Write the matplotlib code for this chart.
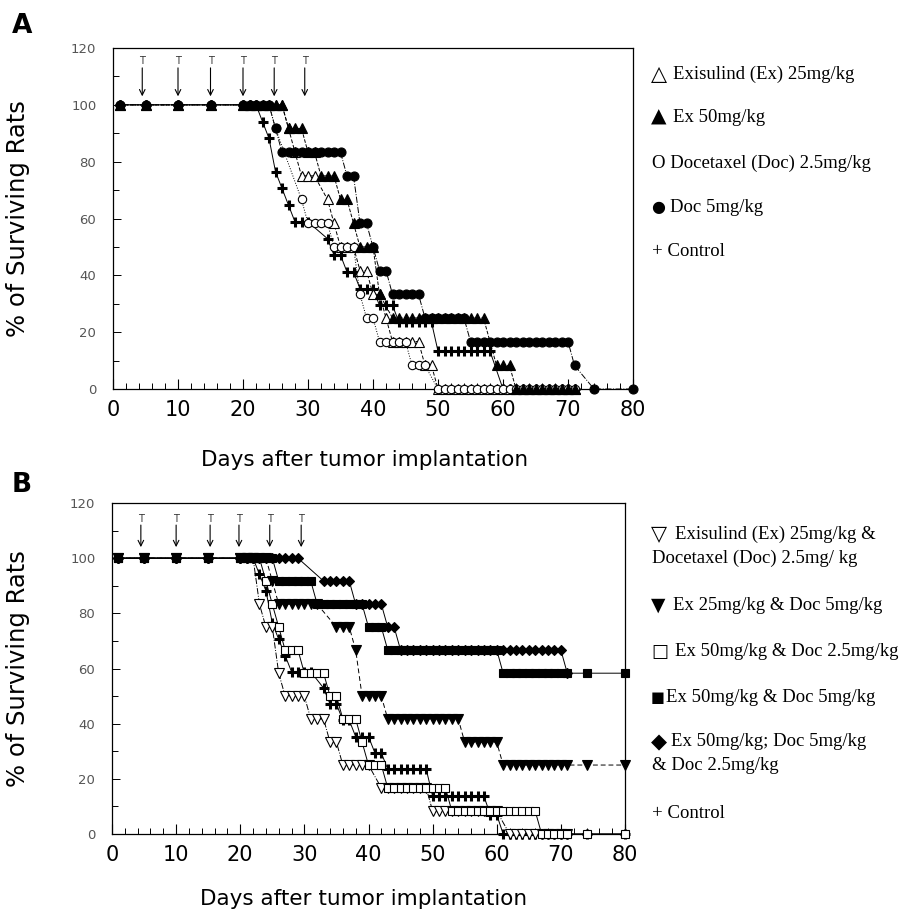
import matplotlib
matplotlib.use("Agg")
import matplotlib.pyplot as plt
from matplotlib.ticker import MultipleLocator

# days on which every group was still at 100 %
early_days = [1, 5, 10, 15]

# runs of daily observations: (first day, last day, % of surviving rats)
# --- panel A ---
a_control = [(20, 22, 100), (23, 23, 94.1), (24, 24, 88.2), (25, 25, 76.5), (26, 26, 70.6),
             (27, 27, 64.7), (28, 30, 58.8), (33, 33, 52.9), (34, 35, 47.1), (36, 37, 41.2),
             (38, 40, 35.3), (41, 43, 29.4), (44, 49, 23.5), (50, 58, 13.3), (60, 71, 0)]
a_ex25 = [(20, 26, 100), (27, 27, 91.7), (28, 28, 83.3), (29, 31, 75), (33, 33, 66.7),
          (34, 34, 58.3), (35, 37, 50), (38, 39, 41.7), (40, 41, 33.3), (42, 42, 25),
          (43, 47, 16.7), (48, 49, 8.3), (50, 71, 0)]
a_doc25 = [(20, 24, 100), (25, 25, 91.7), (29, 29, 66.7), (30, 33, 58.3), (34, 37, 50),
           (38, 38, 33.3), (39, 40, 25), (41, 45, 16.7), (46, 48, 8.3), (50, 71, 0)]
a_ex50 = [(20, 26, 100), (27, 29, 91.7), (30, 31, 83.3), (32, 34, 75), (35, 36, 66.7),
          (37, 37, 58.3), (38, 40, 50), (41, 41, 33.3), (43, 57, 25), (59, 61, 8.3),
          (62, 71, 0)]
a_doc5 = [(20, 24, 100), (25, 25, 91.7), (26, 35, 83.3), (36, 37, 75), (38, 39, 58.3),
          (40, 40, 50), (41, 42, 41.7), (43, 47, 33.3), (48, 54, 25), (55, 70, 16.7),
          (71, 71, 8.3), (74, 74, 0), (80, 80, 0)]

# --- panel B ---
b_control = [(20, 22, 100), (23, 23, 94.1), (24, 24, 88.2), (25, 25, 76.5), (26, 26, 70.6),
             (27, 27, 64.7), (28, 31, 58.8), (33, 33, 52.9), (34, 35, 47.1), (36, 37, 41.2),
             (38, 40, 35.3), (41, 42, 29.4), (43, 49, 23.5), (50, 58, 13.7), (59, 60, 7),
             (61, 71, 0), (74, 74, 0), (80, 80, 0)]
b_ex25_doc25 = [(20, 22, 100), (23, 23, 83.3), (24, 25, 75), (26, 26, 58.3), (27, 30, 50),
                (31, 33, 41.7), (34, 35, 33.3), (36, 40, 25), (42, 49, 16.7), (50, 60, 8.3),
                (62, 71, 0)]
b_ex25_doc5 = [(20, 24, 100), (25, 25, 91.7), (26, 32, 83.3), (35, 37, 75), (38, 38, 66.7),
               (39, 42, 50), (43, 54, 41.7), (55, 60, 33.3), (61, 71, 25), (74, 74, 25),
               (80, 80, 25)]
b_ex50_doc25 = [(20, 23, 100), (24, 24, 91.7), (25, 25, 83.3), (26, 26, 75), (27, 29, 66.7),
                (30, 33, 58.3), (34, 35, 50), (36, 38, 41.7), (39, 39, 33.3), (40, 42, 25),
                (43, 52, 16.7), (53, 66, 8.3), (67, 71, 0), (74, 74, 0), (80, 80, 0)]
b_ex50_doc5 = [(20, 25, 100), (26, 31, 91.7), (32, 39, 83.3), (40, 42, 75), (43, 60, 66.7),
               (61, 71, 58.3), (74, 74, 58.3), (80, 80, 58.3)]
b_triple = [(20, 29, 100), (33, 37, 91.7), (38, 42, 83.3), (43, 44, 75), (45, 70, 66.7),
            (71, 71, 58.3)]

a_treat_days = [4.5, 10, 15, 20, 24.8, 29.5]
b_treat_days = [4.5, 10, 15.3, 19.8, 24.6, 29.5]

a_symbols = ["\u25b3", "\u25b2", "O", "\u25cf", "+"]
a_labels = ["Exisulind (Ex) 25mg/kg", "Ex 50mg/kg", "Docetaxel (Doc) 2.5mg/kg",
            "Doc 5mg/kg", "Control"]
b_symbols = ["\u25bd", "\u25bc", "\u25a1", "\u25a0", "\u25c6", "+"]
b_labels = ["Exisulind (Ex) 25mg/kg &\nDocetaxel (Doc) 2.5mg/ kg",
            "Ex 25mg/kg & Doc 5mg/kg", "Ex 50mg/kg & Doc 2.5mg/kg",
            "Ex 50mg/kg & Doc 5mg/kg", "Ex 50mg/kg; Doc 5mg/kg\n& Doc 2.5mg/kg",
            "Control"]


def expand(runs):
    days = list(early_days)
    pct = [100] * len(early_days)
    for d0, d1, p in runs:
        for d in range(d0, d1 + 1):
            days.append(d)
            pct.append(p)
    return days, pct


def draw(ax, runs, marker, ms, ls, filled=True, mew=0.8):
    d, p = expand(runs)
    ax.plot(d, p, color="black", ls=ls, lw=0.7, marker=marker, ms=ms,
            mfc="black" if filled else "white", mec="black", mew=mew,
            clip_on=False, zorder=3)


W, H = 905, 910
fig = plt.figure(figsize=(W / 100, H / 100), dpi=100)

axA = fig.add_axes([113 / W, 1 - 389 / H, 520 / W, 341 / H])
axB = fig.add_axes([112 / W, 1 - 834 / H, 513 / W, 331 / H])

draw(axA, a_control, "+", 7.5, "-", mew=2.2)
draw(axA, a_ex25, "^", 6.5, (0, (4, 2)), filled=False)
draw(axA, a_doc25, "o", 6, ":", filled=False)
draw(axA, a_ex50, "^", 7, "--")
draw(axA, a_doc5, "o", 6.5, "-.")

draw(axB, b_control, "+", 7.5, "-", mew=2.2)
draw(axB, b_ex25_doc25, "v", 6.5, "-.", filled=False)
draw(axB, b_ex50_doc25, "s", 5.5, "-", filled=False)
draw(axB, b_ex25_doc5, "v", 7, (0, (5, 3)))
draw(axB, b_ex50_doc5, "s", 6, "-")
draw(axB, b_triple, "D", 5, "-")

for ax, treat, top, tip in [(axA, a_treat_days, 113, 103), (axB, b_treat_days, 112, 104)]:
    for d in treat:
        ax.annotate("", xy=(d, tip), xytext=(d, top),
                    arrowprops=dict(arrowstyle="->", lw=0.8, color="black",
                                    mutation_scale=10, shrinkA=0, shrinkB=0))
        ax.text(d, top + 0.5, "T", ha="center", va="bottom", fontsize=7, color="#333")

    ax.set_xlim(0, 80)
    ax.set_ylim(0, 120)
    ax.xaxis.set_major_locator(MultipleLocator(10))
    ax.xaxis.set_minor_locator(MultipleLocator(2))
    ax.yaxis.set_major_locator(MultipleLocator(20))
    ax.yaxis.set_minor_locator(MultipleLocator(10))
    ax.tick_params(axis="x", which="major", direction="in", length=7, width=0.8,
                   labelsize=15, pad=8, top=False)
    ax.tick_params(axis="x", which="minor", direction="in", length=4, width=0.7, top=False)
    ax.tick_params(axis="y", which="major", direction="in", length=6, width=0.7,
                   labelsize=9.5, labelcolor="#555", pad=12, right=False)
    ax.tick_params(axis="y", which="minor", direction="in", length=4, width=0.7, right=False)
    for s in ax.spines.values():
        s.set_linewidth(0.9)
    ax.set_ylabel("% of Surviving Rats", fontsize=17.5)
    ax.yaxis.set_label_coords(-0.16, 0.5)

fig.text(365 / W, 1 - 466 / H, "Days after tumor implantation", ha="center", va="baseline",
         fontsize=15.5)
fig.text(364 / W, 1 - 905 / H, "Days after tumor implantation", ha="center", va="baseline",
         fontsize=15.5)
fig.text(12 / W, 1 - 33 / H, "A", fontsize=19, fontweight="bold", va="baseline")
fig.text(12 / W, 1 - 492 / H, "B", fontsize=19, fontweight="bold", va="baseline")

serif = ["Liberation Serif", "DejaVu Sans"]


def legend(symbols, labels, ys, sym_sizes, label_xs):
    for sym, lab, y, size, xl in zip(symbols, labels, ys, sym_sizes, label_xs):
        lines = lab.split("\n")
        if sym in "O+":
            # plain letters: part of the serif text itself
            lines[0] = sym + " " + lines[0]
            xl = 652
        else:
            fig.text(651 / W, 1 - y / H, sym, family="DejaVu Sans", fontsize=size,
                     va="center")
        for i, line in enumerate(lines):
            x = xl if i == 0 else 652
            fig.text(x / W, 1 - (y + 24 * i) / H, line, family=serif, fontsize=13.5,
                     va="center")


legend(a_symbols, a_labels, [74, 117, 163, 207, 252],
       [15, 14.5, 13.5, 11.5, 13.5], [673, 673, 670, 670, 667])
legend(b_symbols, b_labels, [534, 605, 652, 697, 742, 813],
       [15, 13.5, 13, 10.5, 15, 13.5], [675, 673, 675, 666, 671, 665])

fig.savefig("out.png", dpi=100)
